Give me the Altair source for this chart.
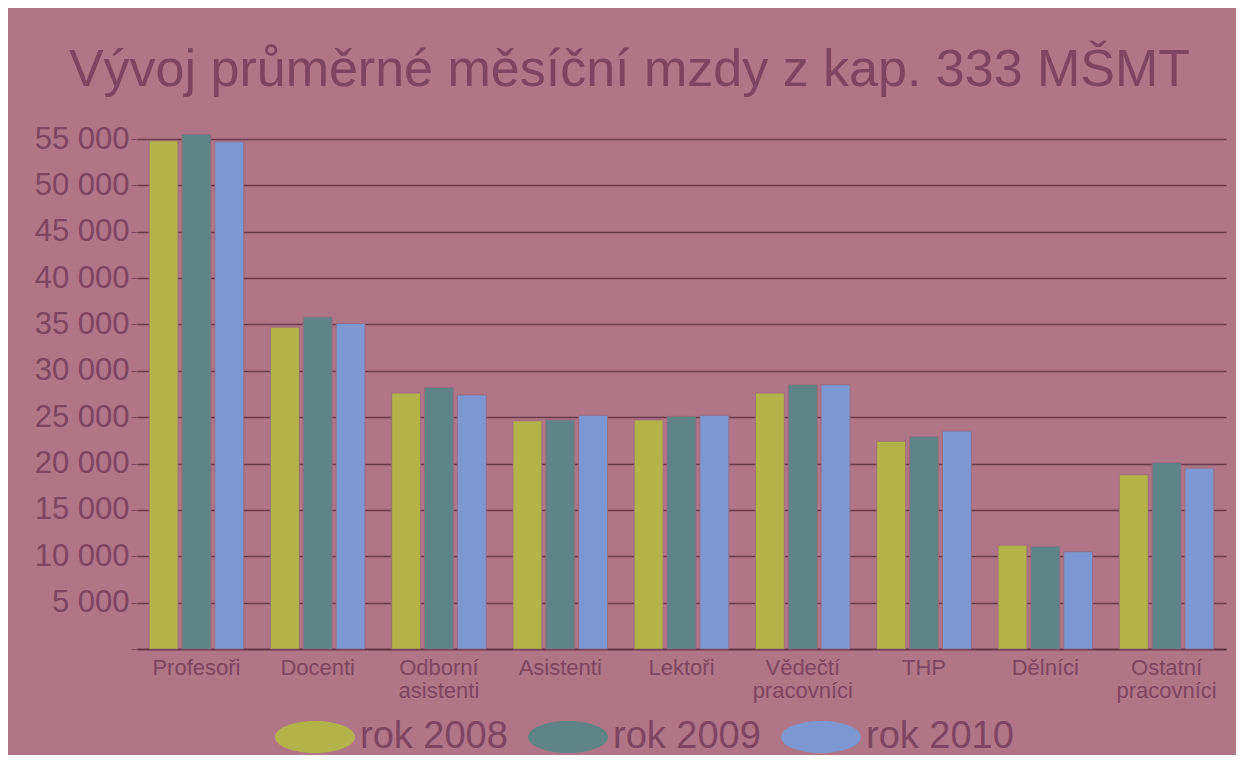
import altair as alt
import pandas as pd

categories = ["Profesoři", "Docenti", "Odborní asistenti", "Asistenti", "Lektoři",
              "Vědečtí pracovníci", "THP", "Dělníci", "Ostatní pracovníci"]
years = ["rok 2008", "rok 2009", "rok 2010"]
v2008 = [54800, 34700, 27600, 24600, 24700, 27600, 22400, 11200, 18800]
v2009 = [55500, 35800, 28200, 24700, 25100, 28500, 22900, 11050, 20100]
v2010 = [54700, 35100, 27400, 25200, 25200, 28500, 23500, 10500, 19500]
y_ticks = [0, 5000, 10000, 15000, 20000, 25000, 30000, 35000, 40000, 45000, 50000, 55000]
colors = ["#b3b34a", "#5e8488", "#7c97d1"]

rows = []
for yr, vals in zip(years, [v2008, v2009, v2010]):
    for c, v in zip(categories, vals):
        rows.append({"kategorie": c, "rok": yr, "mzda": v})
df = pd.DataFrame(rows)

BG = "#b07586"
TXT = "#7e4560"
GRID = "#5d2f42"
ellipse = "M-1,0 A1,0.4 0 1,1 1,0 A1,0.4 0 1,1 -1,0 Z"

chart = alt.Chart(df).mark_bar(stroke="#9a6a7c", strokeWidth=0.8).encode(
    x=alt.X("kategorie:N", sort=categories,
            scale=alt.Scale(paddingInner=0.22, paddingOuter=0.1),
            axis=alt.Axis(title=None, labelAngle=0, labelExpr="split(datum.label, ' ')",
                          labelFontSize=22, labelColor=TXT, labelFont="Liberation Sans",
                          labelLineHeight=23, labelPadding=8, ticks=False,
                          domainColor=GRID, domainWidth=1.5, labelBaseline="top")),
    xOffset=alt.XOffset("rok:N", sort=years, scale=alt.Scale(paddingInner=0.12, paddingOuter=0)),
    y=alt.Y("mzda:Q", scale=alt.Scale(domain=[0, 55000], nice=False),
            axis=alt.Axis(title=None, values=y_ticks,
                          labelExpr="datum.value == 0 ? '' : replace(format(datum.value, ','), ',', ' ')",
                          labelFontSize=31, labelColor=TXT, labelFont="Liberation Sans",
                          labelPadding=2, tickSize=6, tickColor=TXT, domain=False,
                          gridColor=GRID, gridWidth=1.3, gridOpacity=0.85)),
    color=alt.Color("rok:N", scale=alt.Scale(domain=years, range=colors),
                    legend=alt.Legend(title=None, orient="none", direction="horizontal",
                                      legendX=138, legendY=558, symbolType=ellipse,
                                      symbolSize=6400, symbolStrokeWidth=0, symbolOpacity=1,
                                      labelFontSize=38, labelFont="Liberation Sans",
                                      labelColor=TXT, labelOffset=5, columnPadding=20))
).properties(
    width=1089, height=510,
    title=alt.TitleParams("Vývoj průměrné měsíční mzdy z kap. 333 MŠMT", fontSize=52,
                          font="Liberation Sans", fontWeight="normal", color=TXT,
                          anchor="middle", dx=-52, offset=26),
    background=BG,
    padding={"left": 129, "top": 131, "right": 10, "bottom": 106},
    autosize=alt.AutoSizeParams(type="none")
).configure_view(stroke=None)

chart.save("out.html", embed_options={"renderer": "svg", "actions": False})
